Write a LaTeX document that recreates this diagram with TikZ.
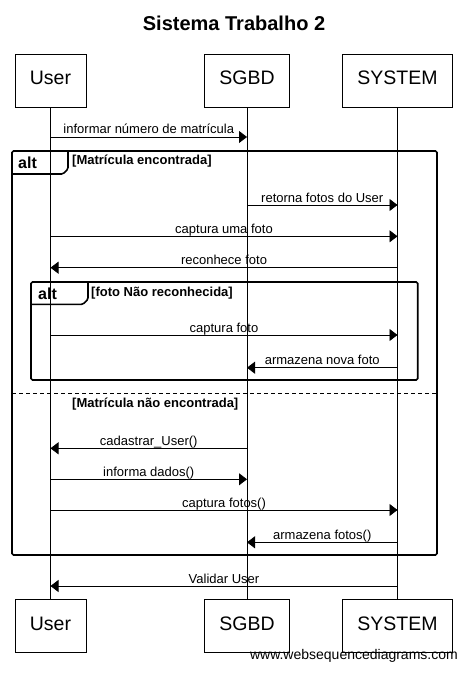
\documentclass[tikz,border=0pt]{standalone}
\usepackage{fontspec}
\setmainfont{Liberation Sans}
\usepackage{tikz}
\usetikzlibrary{arrows.meta, positioning}
\tikzset{
  actor/.style={rectangle, draw=black, line width=0.8pt, inner xsep=15pt,
    inner ysep=0pt, minimum height=53pt, text depth=5pt,
    font=\fontsize{19.5}{22}\selectfont},
  lifeline/.style={line width=0.8pt},
  msg/.style={-{Triangle[length=8pt,width=12pt]}, line width=0.8pt},
  msglabel/.style={anchor=base, inner sep=0pt, yshift=3pt,
    font=\fontsize{13}{15}\selectfont},
  frame/.style={line width=1.6pt, rounded corners=1.5pt},
  altlabel/.style={anchor=base west, inner sep=2pt,
    font=\bfseries\fontsize{16}{18}\selectfont},
  guard/.style={anchor=base west, inner sep=2pt,
    font=\bfseries\fontsize{13}{15}\selectfont}
}
\begin{document}
\begin{tikzpicture}[x=1pt, y=-1pt]
  \useasboundingbox (0,0) rectangle (468,676);
  \node[font=\bfseries\fontsize{20}{24}\selectfont, anchor=base] (title) at (234,30.5) {Sistema Trabalho 2};
  % participants
  \node[actor] (user) at (50.5,80.5) {User};
  \node[actor] (sgbd) at (247,80.5) {SGBD};
  \node[actor] (sys) at (397.5,80.5) {SYSTEM};
  \node[actor] (user-bot) at (50.5,626) {User};
  \node[actor] (sgbd-bot) at (247,626) {SGBD};
  \node[actor] (sys-bot) at (397.5,626) {SYSTEM};
  \foreach \p in {user, sgbd, sys} \draw[lifeline] (\p.south) -- (\p-bot.north);
  % messages
  \foreach \y/\a/\b/\txt in {137/user/sgbd/informar número de matrícula,
      205/sgbd/sys/retorna fotos do User, 236.3/user/sys/captura uma foto,
      267.7/sys/user/reconhece foto, 335/user/sys/captura foto,
      367.7/sys/sgbd/armazena nova foto, 448.3/sgbd/user/cadastrar\_User(),
      479.3/user/sgbd/informa dados(), 510/user/sys/captura fotos(),
      542.3/sys/sgbd/armazena fotos(), 586/sys/user/Validar User}
    \draw[msg] (\a |- 0,\y) -- node[msglabel] {\txt} (\b |- 0,\y);
  % outer alt
  \draw[frame] (12,151) rectangle (437,555);
  \draw[frame] (12,174) -- (63,174) -- (68,169) -- (68,151);
  \node[altlabel] (alt-out) at (16,168.5) {alt};
  \node[guard] (guard-a) at (70,165) {[Matrícula encontrada]};
  \draw[frame, rounded corners=0pt, dash pattern=on 4pt off 3pt] (12,393.3) -- (437,393.3);
  \node[guard] (guard-b) at (70,407.5) {[Matrícula não encontrada]};
  % inner alt
  \draw[frame] (31,282) rectangle (417.7,380);
  \draw[frame] (31,304.3) -- (83,304.3) -- (88,299.3) -- (88,282);
  \node[altlabel] (alt-in) at (36,299.5) {alt};
  \node[guard] (guard-c) at (89,296.5) {[foto Não reconhecida]};
  \node[anchor=base east, inner sep=0pt, font=\fontsize{14}{16}\selectfont] (wsd) at (458,659.5) {www.websequencediagrams.com};
\end{tikzpicture}
\end{document}
